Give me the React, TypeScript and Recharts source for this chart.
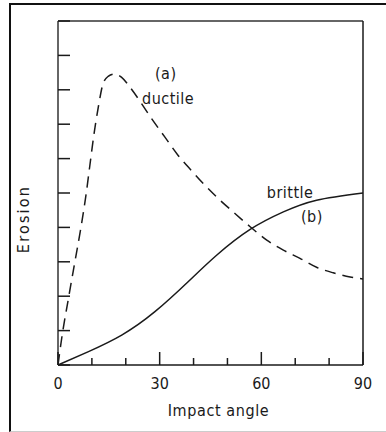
import React from 'react';
import { LineChart, Line, XAxis, YAxis, ReferenceDot } from 'recharts';

const ductileAngle = [0, 1.2, 3.0, 4.8, 6.6, 8.2, 9.4, 10.6, 11.9, 13.3, 14.8, 16.7, 18.7, 21.2, 24.1, 27.5, 31.5, 35.4, 39.3, 43.3, 47.5, 51.7, 56.7, 61.6, 66.5, 71.4, 76.3, 81.2, 86.2, 90];
const ductileErosion = [0, 0.85, 1.89, 2.9, 3.9, 4.9, 5.8, 6.7, 7.5, 8.18, 8.39, 8.46, 8.37, 8.08, 7.68, 7.18, 6.63, 6.1, 5.66, 5.23, 4.82, 4.45, 4.02, 3.63, 3.34, 3.1, 2.84, 2.68, 2.56, 2.5];
const brittleAngle = [0, 9, 18.8, 28.6, 38.4, 46.8, 56.7, 66.5, 76.3, 90];
const brittleErosion = [0, 0.39, 0.87, 1.55, 2.42, 3.19, 3.94, 4.45, 4.79, 5.0];

const xTicks = [0, 10, 20, 30, 40, 50, 60, 70, 80, 90];
const xLabelTicks = [0, 30, 60, 90];
const yTicks = [0, 1, 2, 3, 4, 5, 6, 7, 8, 9, 10];

const ductileData = ductileAngle.map((a, i) => ({ angle: a, erosion: ductileErosion[i] }));
const brittleData = brittleAngle.map((a, i) => ({ angle: a, erosion: brittleErosion[i] }));

const FONT = '"DejaVu Sans Condensed", "DejaVu Sans", sans-serif';
const INK = '#1a1a1a';

const BottomTick = (props: any) => {
  const { x, y, payload } = props;
  const major = xLabelTicks.includes(payload.value);
  return (
    <g>
      <line x1={x} y1={y} x2={x} y2={y - (major ? 13 : 7)} stroke={INK} strokeWidth={1.5} />
      {major && (
        <text x={x} y={y + 24} textAnchor="middle" fontFamily={FONT} fontSize={16} fill={INK}>
          {payload.value}
        </text>
      )}
    </g>
  );
};

const TopTick = (props: any) => {
  const { x, y, payload } = props;
  const major = xLabelTicks.includes(payload.value);
  return <line x1={x} y1={y} x2={x} y2={y + (major ? 13 : 7)} stroke={INK} strokeWidth={1.5} />;
};

const LeftTick = (props: any) => {
  const { x, y } = props;
  return <line x1={x} y1={y} x2={x + 12} y2={y} stroke={INK} strokeWidth={1.5} />;
};

const RightTick = (props: any) => {
  const { x, y } = props;
  return <line x1={x} y1={y} x2={x - 13} y2={y} stroke={INK} strokeWidth={1.5} />;
};

const annot = (value: string) => ({
  position: 'center' as const,
  content: (p: any) => {
    const vb = p.viewBox || {};
    const cx = vb.x + (vb.width || 0) / 2;
    const cy = vb.y + (vb.height || 0) / 2;
    return (
      <text x={cx} y={cy} dy="0.35em" textAnchor="middle" fontFamily={FONT} fontSize={16} fill={INK} letterSpacing={0.5}>
        {value}
      </text>
    );
  },
});

export default function App() {
  return (
    <div style={{ position: 'fixed', left: 0, top: 0, width: 386, height: 432, background: '#fff', overflow: 'hidden' }}>
      <div
        style={{
          position: 'absolute',
          left: 9,
          top: 3,
          width: 400,
          height: 426,
          borderLeft: '2px solid #111',
          borderTop: '2px solid #111',
          borderBottom: '1px solid #ccc',
        }}
      />
      <div style={{ position: 'absolute', left: 0, top: 0 }}>
        <LineChart width={386} height={432} margin={{ top: 20, right: 22, bottom: 66, left: 57 }}>
          <XAxis
            dataKey="angle"
            type="number"
            domain={[0, 90]}
            ticks={xTicks}
            interval={0}
            height={1}
            tickSize={0}
            tickMargin={0}
            tickLine={false}
            axisLine={{ stroke: INK, strokeWidth: 1.5 }}
            tick={<BottomTick />}
            label={{
              content: (p: any) => {
                const vb = p.viewBox;
                return (
                  <text x={vb.x + vb.width / 2 + 8} y={vb.y + 51} textAnchor="middle" fontFamily={FONT} fontSize={16} fill={INK} letterSpacing={0.6}>
                    Impact angle
                  </text>
                );
              },
            }}
          />
          <XAxis
            xAxisId="top"
            orientation="top"
            dataKey="angle"
            type="number"
            domain={[0, 90]}
            ticks={xTicks}
            interval={0}
            height={1}
            tickSize={0}
            tickMargin={0}
            tickLine={false}
            axisLine={{ stroke: '#333', strokeWidth: 1.5 }}
            tick={<TopTick />}
          />
          <YAxis
            type="number"
            domain={[0, 10]}
            ticks={yTicks}
            interval={0}
            width={1}
            tickSize={0}
            tickMargin={0}
            tickLine={false}
            axisLine={{ stroke: '#333', strokeWidth: 1.5 }}
            tick={<LeftTick />}
            label={{
              content: (p: any) => {
                const vb = p.viewBox;
                const cx = vb.x + vb.width - 35;
                const cy = vb.y + vb.height / 2 + 26;
                return (
                  <text x={cx} y={cy} dy="0.35em" textAnchor="middle" transform={`rotate(-90 ${cx} ${cy})`} fontFamily={FONT} fontSize={16} fill={INK} letterSpacing={2.2}>
                    Erosion
                  </text>
                );
              },
            }}
          />
          <YAxis
            yAxisId="right"
            orientation="right"
            type="number"
            domain={[0, 10]}
            ticks={yTicks}
            interval={0}
            width={1}
            tickSize={0}
            tickMargin={0}
            tickLine={false}
            axisLine={{ stroke: INK, strokeWidth: 1.5 }}
            tick={<RightTick />}
          />
          <Line
            data={ductileData}
            dataKey="erosion"
            type="monotone"
            stroke={INK}
            strokeWidth={1.5}
            strokeDasharray="11 7"
            dot={false}
            isAnimationActive={false}
          />
          <Line
            data={brittleData}
            dataKey="erosion"
            type="natural"
            stroke={INK}
            strokeWidth={1.5}
            dot={false}
            isAnimationActive={false}
          />
          <ReferenceDot x={31.8} y={8.49} r={0} fill="none" stroke="none" label={annot('(a)')} />
          <ReferenceDot x={32.5} y={7.75} r={0} fill="none" stroke="none" label={annot('ductile')} />
          <ReferenceDot x={68.5} y={5.02} r={0} fill="none" stroke="none" label={annot('brittle')} />
          <ReferenceDot x={74.9} y={4.31} r={0} fill="none" stroke="none" label={annot('(b)')} />
        </LineChart>
      </div>
    </div>
  );
}
